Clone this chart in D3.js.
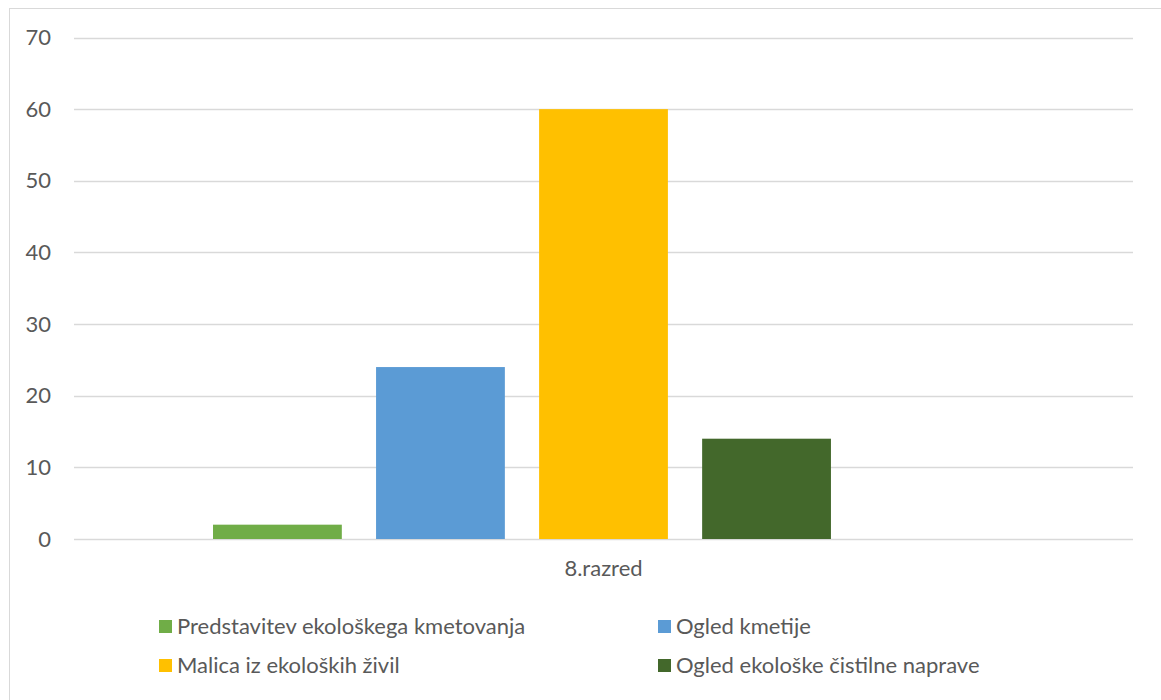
<!DOCTYPE html>
<html>
<head>
<meta charset="utf-8">
<script src="https://cdn.jsdelivr.net/npm/d3@7"></script>
<style>
  html, body { margin: 0; padding: 0; background: #fff; }
  svg { display: block; font-family: Lato, "Noto Sans", sans-serif; }
</style>
</head>
<body>
<svg id="chart" width="1161" height="700"></svg>
<script>
const categories = ["8.razred"];
const seriesNames = [
  "Predstavitev ekološkega kmetovanja",
  "Ogled kmetije",
  "Malica iz ekoloških živil",
  "Ogled ekološke čistilne naprave",
  ""
];
const seriesValues = [2, 24, 60, 14, null];
const seriesColors = ["#70ad47", "#5b9bd5", "#ffc000", "#43682b", "#999999"];
const yTicks = [0, 10, 20, 30, 40, 50, 60, 70];

(function () {
const svg = d3.select("#chart");
const W = 1161, H = 700;
const FS = 22;

// chart border
svg.append("rect")
  .attr("x", 9.5).attr("y", 8.5)
  .attr("width", W + 10).attr("height", H + 10)
  .attr("fill", "#fff").attr("stroke", "#d9d9d9").attr("stroke-width", 1);

const pLeft = 74, pRight = 1133, pTop = 37.5, pBottom = 539;

const y = d3.scaleLinear().domain([0, 70]).range([pBottom, pTop]);
const x0 = d3.scaleBand().domain(categories).range([pLeft, pRight]).paddingOuter(0.178).paddingInner(0);
const x1 = d3.scaleBand().domain(d3.range(seriesNames.length)).range([0, x0.bandwidth()]).paddingInner(0.21).paddingOuter(0);

// gridlines
svg.append("g").selectAll("line").data(yTicks).join("line")
  .attr("x1", pLeft).attr("x2", pRight)
  .attr("y1", d => Math.round(y(d)) + 0.5).attr("y2", d => Math.round(y(d)) + 0.5)
  .attr("stroke", "#d9d9d9").attr("stroke-width", 1.5);

// y axis labels
const yAxis = d3.axisLeft(y).tickValues(yTicks).tickSize(0).tickPadding(0);
const gy = svg.append("g").attr("transform", `translate(51,0)`).call(yAxis);
gy.select(".domain").remove();
gy.selectAll("text").attr("fill", "#595959").attr("font-size", FS).attr("font-family", "Lato, 'Noto Sans', sans-serif");

// bars
const catG = svg.append("g").selectAll("g").data(categories).join("g")
  .attr("transform", d => `translate(${x0(d)},0)`);
catG.selectAll("rect")
  .data(seriesValues.map((v, i) => ({ v, i })).filter(d => d.v != null))
  .join("rect")
  .attr("x", d => x1(d.i))
  .attr("width", x1.bandwidth())
  .attr("y", d => y(d.v))
  .attr("height", d => y(0) - y(d.v))
  .attr("fill", d => seriesColors[d.i]);

// category axis label
const xAxis = d3.axisBottom(x0).tickSize(0).tickPadding(0);
const gx = svg.append("g").attr("transform", `translate(0,${pBottom + 26})`).call(xAxis);
gx.select(".domain").remove();
gx.selectAll("text").attr("fill", "#595959").attr("font-size", FS).attr("dy", "0.5em").attr("font-family", "Lato, 'Noto Sans', sans-serif");

// legend
const legendPos = [
  { x: 159, y: 626 }, { x: 658, y: 626 },
  { x: 159, y: 665 }, { x: 658, y: 665 }
];
const lg = svg.append("g").selectAll("g").data(seriesNames.slice(0, 4)).join("g")
  .attr("transform", (d, i) => `translate(${legendPos[i].x},${legendPos[i].y})`);
lg.append("rect").attr("x", 0).attr("y", -6).attr("width", 13).attr("height", 13)
  .attr("fill", (d, i) => seriesColors[i]);
lg.append("text").attr("x", 18).attr("y", 0).attr("dy", "0.35em")
  .attr("fill", "#595959").attr("font-size", FS).text(d => d);
})();
</script>
</body>
</html>
